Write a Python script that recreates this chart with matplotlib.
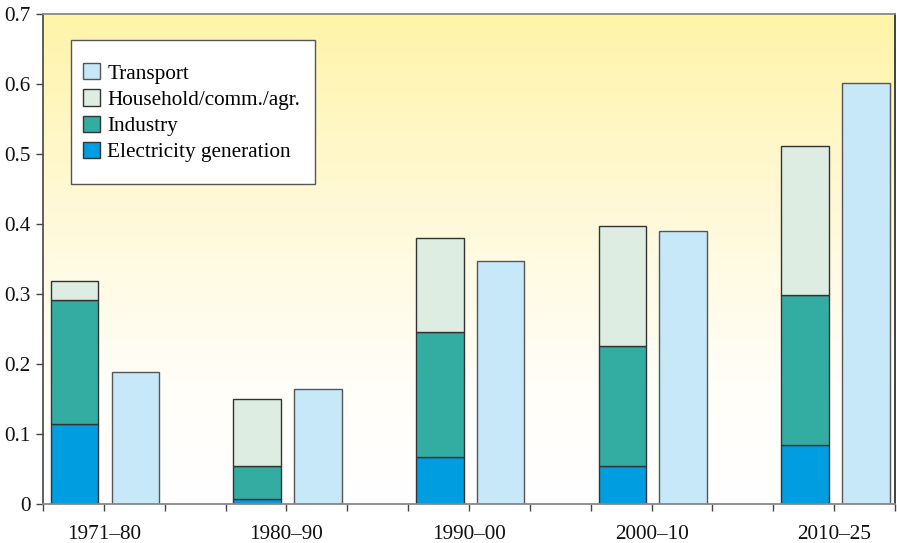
import numpy as np
import matplotlib
matplotlib.use("Agg")
import matplotlib.pyplot as plt
from matplotlib.colors import LinearSegmentedColormap
from matplotlib.patches import Rectangle

plt.rcParams['font.family'] = ['Liberation Serif', 'DejaVu Serif']

periods = ["1971–80", "1980–90", "1990–00", "2000–10", "2010–25"]
electricity = [0.115, 0.007, 0.067, 0.055, 0.084]
industry = [0.176, 0.048, 0.179, 0.171, 0.215]
household = [0.027, 0.095, 0.134, 0.171, 0.213]
transport = [0.188, 0.164, 0.347, 0.390, 0.602]

c_elec = "#009EE0"
c_ind = "#33ADA1"
c_house = "#DDEDE1"
c_trans = "#C6E8F8"

W, H = 897, 543
fig = plt.figure(figsize=(W / 100, H / 100), dpi=100)
ax_l, ax_t, ax_r, ax_b = 43, 14, 895, 504
ax = fig.add_axes([ax_l / W, 1 - ax_b / H, (ax_r - ax_l) / W, (ax_b - ax_t) / H])
aw, ah = ax_r - ax_l, ax_b - ax_t

ax.set_xlim(0, 14)
ax.set_ylim(0, 0.7)

# background: pale yellow at the top fading to white towards the baseline
grad = np.linspace(0, 1, 256).reshape(-1, 1)
cmap = LinearSegmentedColormap.from_list(
    "bg", [(0.0, "#FFFFFF"), (0.25, "#FFFEF8"), (0.6, "#FFF9D8"), (1.0, "#FFF4A8")])
ax.imshow(grad, extent=[0, 14, 0, 0.7], origin="lower", aspect="auto",
          cmap=cmap, zorder=0, interpolation="bicubic")

x = np.arange(len(periods)) * 3
w = 0.78
xs = x + 0.52
xt = x + 1.52
bottom2 = np.array(electricity) + np.array(industry)

edge = "#333333"
ax.bar(xs, electricity, w, color=c_elec, edgecolor=edge, linewidth=1.0,
       label="Electricity generation", zorder=2)
ax.bar(xs, industry, w, bottom=electricity, color=c_ind, edgecolor=edge,
       linewidth=1.0, label="Industry", zorder=2)
ax.bar(xs, household, w, bottom=bottom2, color=c_house, edgecolor=edge,
       linewidth=1.0, label="Household/comm./agr.", zorder=2)
ax.bar(xt, transport, w, color=c_trans, edgecolor="#555555", linewidth=1.0,
       label="Transport", zorder=2)

fs = 15.3
ax.set_xticks(np.arange(0, 15))
labels = [""] * 15
for i, p in enumerate(periods):
    labels[3 * i + 1] = p
ax.set_xticklabels(labels)
ax.set_yticks(np.arange(0, 0.71, 0.1))
ax.set_yticklabels(["0", "0.1", "0.2", "0.3", "0.4", "0.5", "0.6", "0.7"])
ax.tick_params(axis="both", direction="out", length=5, width=1.0,
               colors="#444444", labelcolor="#111111", labelsize=fs)
ax.tick_params(axis="x", pad=10)
ax.tick_params(axis="y", pad=4)

for side in ["top", "right", "bottom"]:
    ax.spines[side].set_color("#888888")
    ax.spines[side].set_linewidth(1.3)
ax.spines["left"].set_color("#444444")
ax.spines["left"].set_linewidth(1.2)
ax.spines["right"].set_color("#333333")

# legend box
bx0, by0, bx1, by1 = 71, 40, 315, 184
ax.add_patch(Rectangle(((bx0 - ax_l) / aw, (ax_b - by1) / ah),
                       (bx1 - bx0) / aw, (by1 - by0) / ah,
                       transform=ax.transAxes, facecolor="white",
                       edgecolor="#555555", linewidth=1.0, zorder=4))

handles, lbls = ax.get_legend_handles_labels()
order = [3, 2, 1, 0]
leg = ax.legend([handles[i] for i in order], [lbls[i] for i in order],
                loc="upper left",
                bbox_to_anchor=((83 - ax_l) / aw, (ax_b - 63) / ah),
                frameon=False, fontsize=fs,
                handlelength=0.8, handleheight=0.8, handletextpad=0.35,
                labelspacing=0.27, borderpad=0, borderaxespad=0)
leg.set_zorder(5)

fig.savefig("out.png", dpi=100)
